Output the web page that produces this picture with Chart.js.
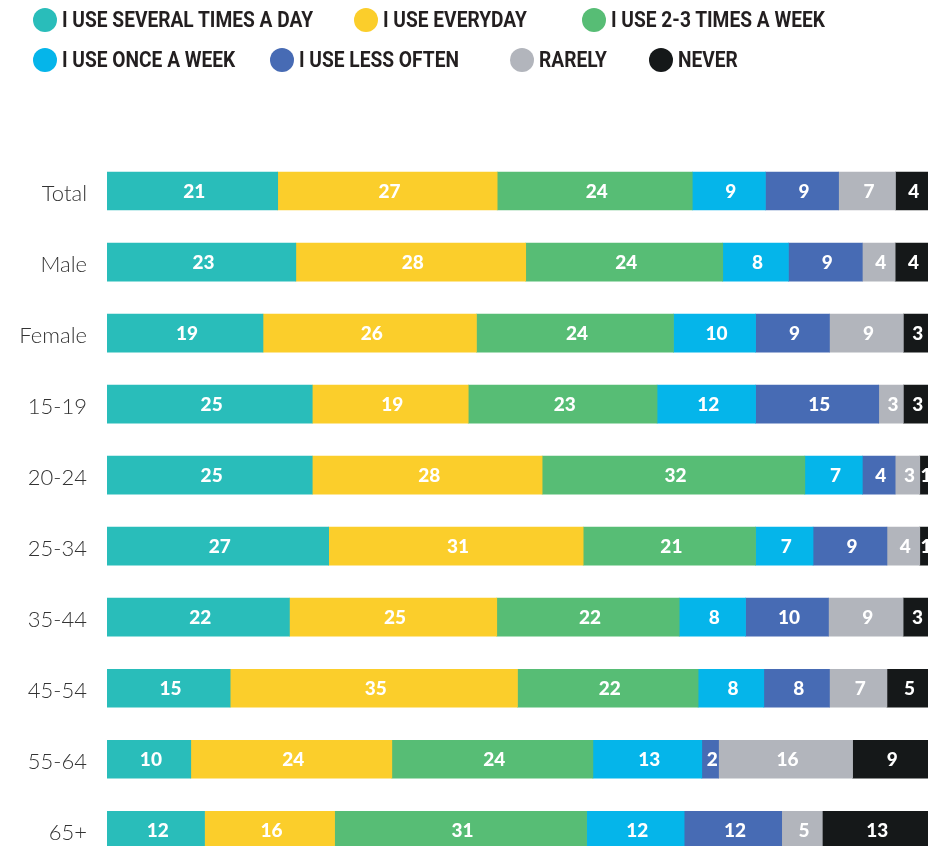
<!DOCTYPE html>
<html>
<head>
<meta charset="utf-8">
<script src="https://cdn.jsdelivr.net/npm/chart.js@4.4.1/dist/chart.umd.min.js"></script>
<style>
  html, body { margin: 0; padding: 0; background: #fff; overflow: hidden; }
  #wrap { position: relative; width: 938px; height: 899px; }
  #legend { position: absolute; left: 0; top: 0; width: 938px; height: 90px; }
  .item { position: absolute; height: 24px; }
  .dot { position: absolute; left: 0; top: 0; width: 24px; height: 24px; border-radius: 50%; }
  .txt { position: absolute; left: 29px; top: -2px; line-height: 28px;
         font-family: Roboto, "DejaVu Sans Condensed", sans-serif;
         font-weight: 700; font-size: 22px; color: #231f20; white-space: nowrap;
         transform-origin: left center; }
</style>
</head>
<body>
<div id="wrap">
  <div id="legend"></div>
  <canvas id="chart" width="938" height="899"></canvas>
</div>
<script>
// categorias e séries (valores em %)
const categories = ['Total', 'Male', 'Female', '15-19', '20-24', '25-34', '35-44', '45-54', '55-64', '65+'];
const seriesNames = ['I USE SEVERAL TIMES A DAY', 'I USE EVERYDAY', 'I USE 2-3 TIMES A WEEK',
  'I USE ONCE A WEEK', 'I USE LESS OFTEN', 'RARELY', 'NEVER'];

const severalTimesADay = [21, 23, 19, 25, 25, 27, 22, 15, 10, 12];
const everyday        = [27, 28, 26, 19, 28, 31, 25, 35, 24, 16];
const twoThreeWeek    = [24, 24, 24, 23, 32, 21, 22, 22, 24, 31];
const onceAWeek       = [9, 8, 10, 12, 7, 7, 8, 8, 13, 12];
const lessOften       = [9, 9, 9, 15, 4, 9, 10, 8, 2, 12];
const rarely          = [7, 4, 9, 3, 3, 4, 9, 7, 16, 5];
const never           = [4, 4, 3, 3, 1, 1, 3, 5, 9, 13];

const colors = ['#29BDBA', '#FBCE2B', '#57BD75', '#05B5EA', '#476BB4', '#B2B5BC', '#151819'];

const allSeries = [severalTimesADay, everyday, twoThreeWeek, onceAWeek, lessOften, rarely, never];

// cada barra é normalizada para 100%
const rowTotals = categories.map((c, i) => allSeries.reduce((s, arr) => s + arr[i], 0));

// legenda em HTML (duas linhas)
const legendSlots = [[0, 33, 8], [1, 354, 8], [2, 582, 8], [3, 33, 48], [4, 270, 48], [5, 510, 48], [6, 649, 48]];
const legendEl = document.getElementById('legend');
const spans = [];
legendSlots.forEach(([idx, left, top]) => {
  const div = document.createElement('div');
  div.className = 'item';
  div.style.left = left + 'px';
  div.style.top = top + 'px';
  div.innerHTML = '<span class="dot" style="background:' + colors[idx] + '"></span><span class="txt">' + seriesNames[idx] + '</span>';
  legendEl.appendChild(div);
  spans.push(div.querySelector('.txt'));
});
// texto condensado: ajusta a largura do primeiro item (~251px)
const k = 251 / spans[0].getBoundingClientRect().width;
spans.forEach(s => { s.style.transform = 'scaleX(' + k + ')'; });

// plugin para escrever os valores dentro das barras
const barLabels = {
  id: 'barLabels',
  afterDatasetsDraw(chart) {
    const ctx = chart.ctx;
    ctx.save();
    ctx.fillStyle = '#fff';
    ctx.font = '900 19px Lato, "Open Sans", sans-serif';
    ctx.textAlign = 'center';
    ctx.textBaseline = 'middle';
    chart.data.datasets.forEach((ds, di) => {
      const meta = chart.getDatasetMeta(di);
      meta.data.forEach((bar, i) => {
        const cx = (bar.x + bar.base) / 2 + 2;
        ctx.fillText(String(ds.values[i]), cx, bar.y + 1);
      });
    });
    ctx.restore();
  }
};

new Chart(document.getElementById('chart').getContext('2d'), {
  type: 'bar',
  data: {
    labels: categories,
    datasets: allSeries.map((arr, k) => ({
      label: seriesNames[k],
      values: arr,
      data: arr.map((v, i) => v / rowTotals[i] * 100),
      backgroundColor: colors[k],
      borderWidth: 0,
      barThickness: 38
    }))
  },
  options: {
    indexAxis: 'y',
    responsive: false,
    animation: false,
    layout: { padding: { top: 155.5, right: 10, bottom: 0, left: 0 } },
    plugins: {
      legend: { display: false },
      tooltip: { enabled: false }
    },
    scales: {
      x: { stacked: true, min: 0, max: 100, display: false },
      y: {
        stacked: true,
        grid: { display: false, drawTicks: false },
        border: { display: false },
        afterFit: function(scale) { scale.width = 107; },
        ticks: {
          padding: 20,
          labelOffset: 3,
          color: '#333',
          font: { family: 'Lato, "Open Sans", sans-serif', weight: '300', size: 22 }
        }
      }
    }
  },
  plugins: [barLabels]
});
</script>
</body>
</html>
